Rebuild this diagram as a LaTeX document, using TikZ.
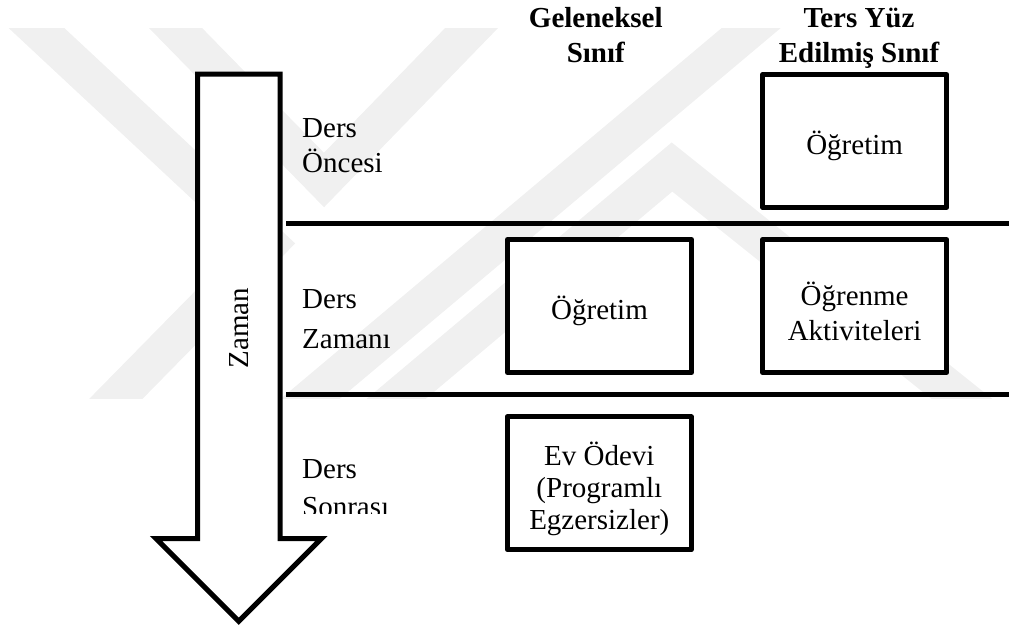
\documentclass[tikz,border=0pt]{standalone}
\usepackage{fontspec}
\setmainfont{Liberation Serif}
% invisible strut that sets the first line of a box label a little lower
\newcommand{\boxstrut}{\rule{0pt}{34pt}}
\begin{document}
\begin{tikzpicture}[x=1pt,y=-1pt,
  wmband/.style={line width=38pt, draw=black!6, line join=miter},
  rule/.style={line width=5pt, line cap=butt},
  cell/.style={draw, line width=5pt, line join=round, fill=white,
    minimum width=184pt, minimum height=133pt, inner sep=0pt, align=center,
    font=\fontsize{29}{34.5}\selectfont},
  lbl/.style={anchor=base west, inner sep=0pt, font=\fontsize{29}{34.5}\selectfont},
  head/.style={anchor=base, inner sep=0pt, font=\bfseries\fontsize{29}{35}\selectfont}]
\useasboundingbox (0,0) rectangle (1009,627);

% faint background emblem made of diagonal bands
\begin{scope}
  \clip (0,28) rectangle (1009,398);
  \draw[wmband] (15,8) -- (268,244) -- (100,415);
  \draw[wmband] (156,8) -- (324,180) -- (491,8);
  \draw[wmband] (291,415) -- (775,8);
  \draw[wmband] (377,415) -- (672,167) -- (982,415);
\end{scope}

% time arrow
\draw[line width=5pt, fill=white, line join=miter]
  (197.5,74) -- (280,74) -- (280,538.5) -- (321.5,538.5) -- (238.75,621.25)
  -- (156,538.5) -- (197.5,538.5) -- cycle;
\node[rotate=90, anchor=base, inner sep=0pt, font=\fontsize{29}{34.5}\selectfont]
  (zaman) at (248.3,328.3) {Zaman};

% phase separators
\coordinate (s1a) at (286,223.5);
\coordinate (s1b) at (1012,223.5);
\coordinate (s2a) at (286,394);
\coordinate (s2b) at (1012,394);
\draw[rule] (s1a) -- (s1b);
\draw[rule] (s2a) -- (s2b);

% column headers
\node[head] (h1a) at (595.8,27.5) {Geleneksel};
\node[head] (h1b) at (595.8,62.5) {Sınıf};
\node[head] (h2a) at (859,27.5) {Ters Yüz};
\node[head] (h2b) at (859,62.5) {Edilmiş Sınıf};

% phase labels
\node[lbl] (p1a) at (302,137.7) {Ders};
\node[lbl] (p1b) at (302,172.7) {Öncesi};
\node[lbl] (p2a) at (302,308.8) {Ders};
\node[lbl] (p2b) at (302,348.8) {Zamanı};
\node[lbl] (p3a) at (302,478) {Ders};
\begin{scope}
  \clip (290,480) rectangle (420,513.5);
  \node[lbl] (p3b) at (302,516) {Sonrası};
\end{scope}

% activity boxes
\node[cell] (pre)  at (854.6,141) {\boxstrut Öğretim};
\node[cell] (inA)  at (599.5,306) {\boxstrut Öğretim};
\node[cell] (inB)  at (854.6,306) {\boxstrut Öğrenme\\Aktiviteleri};
\node[cell, font=\fontsize{29}{32}\selectfont] (post) at (599.3,483.3)
  {\boxstrut Ev Ödevi\\(Programlı\\Egzersizler)};
\end{tikzpicture}
\end{document}
